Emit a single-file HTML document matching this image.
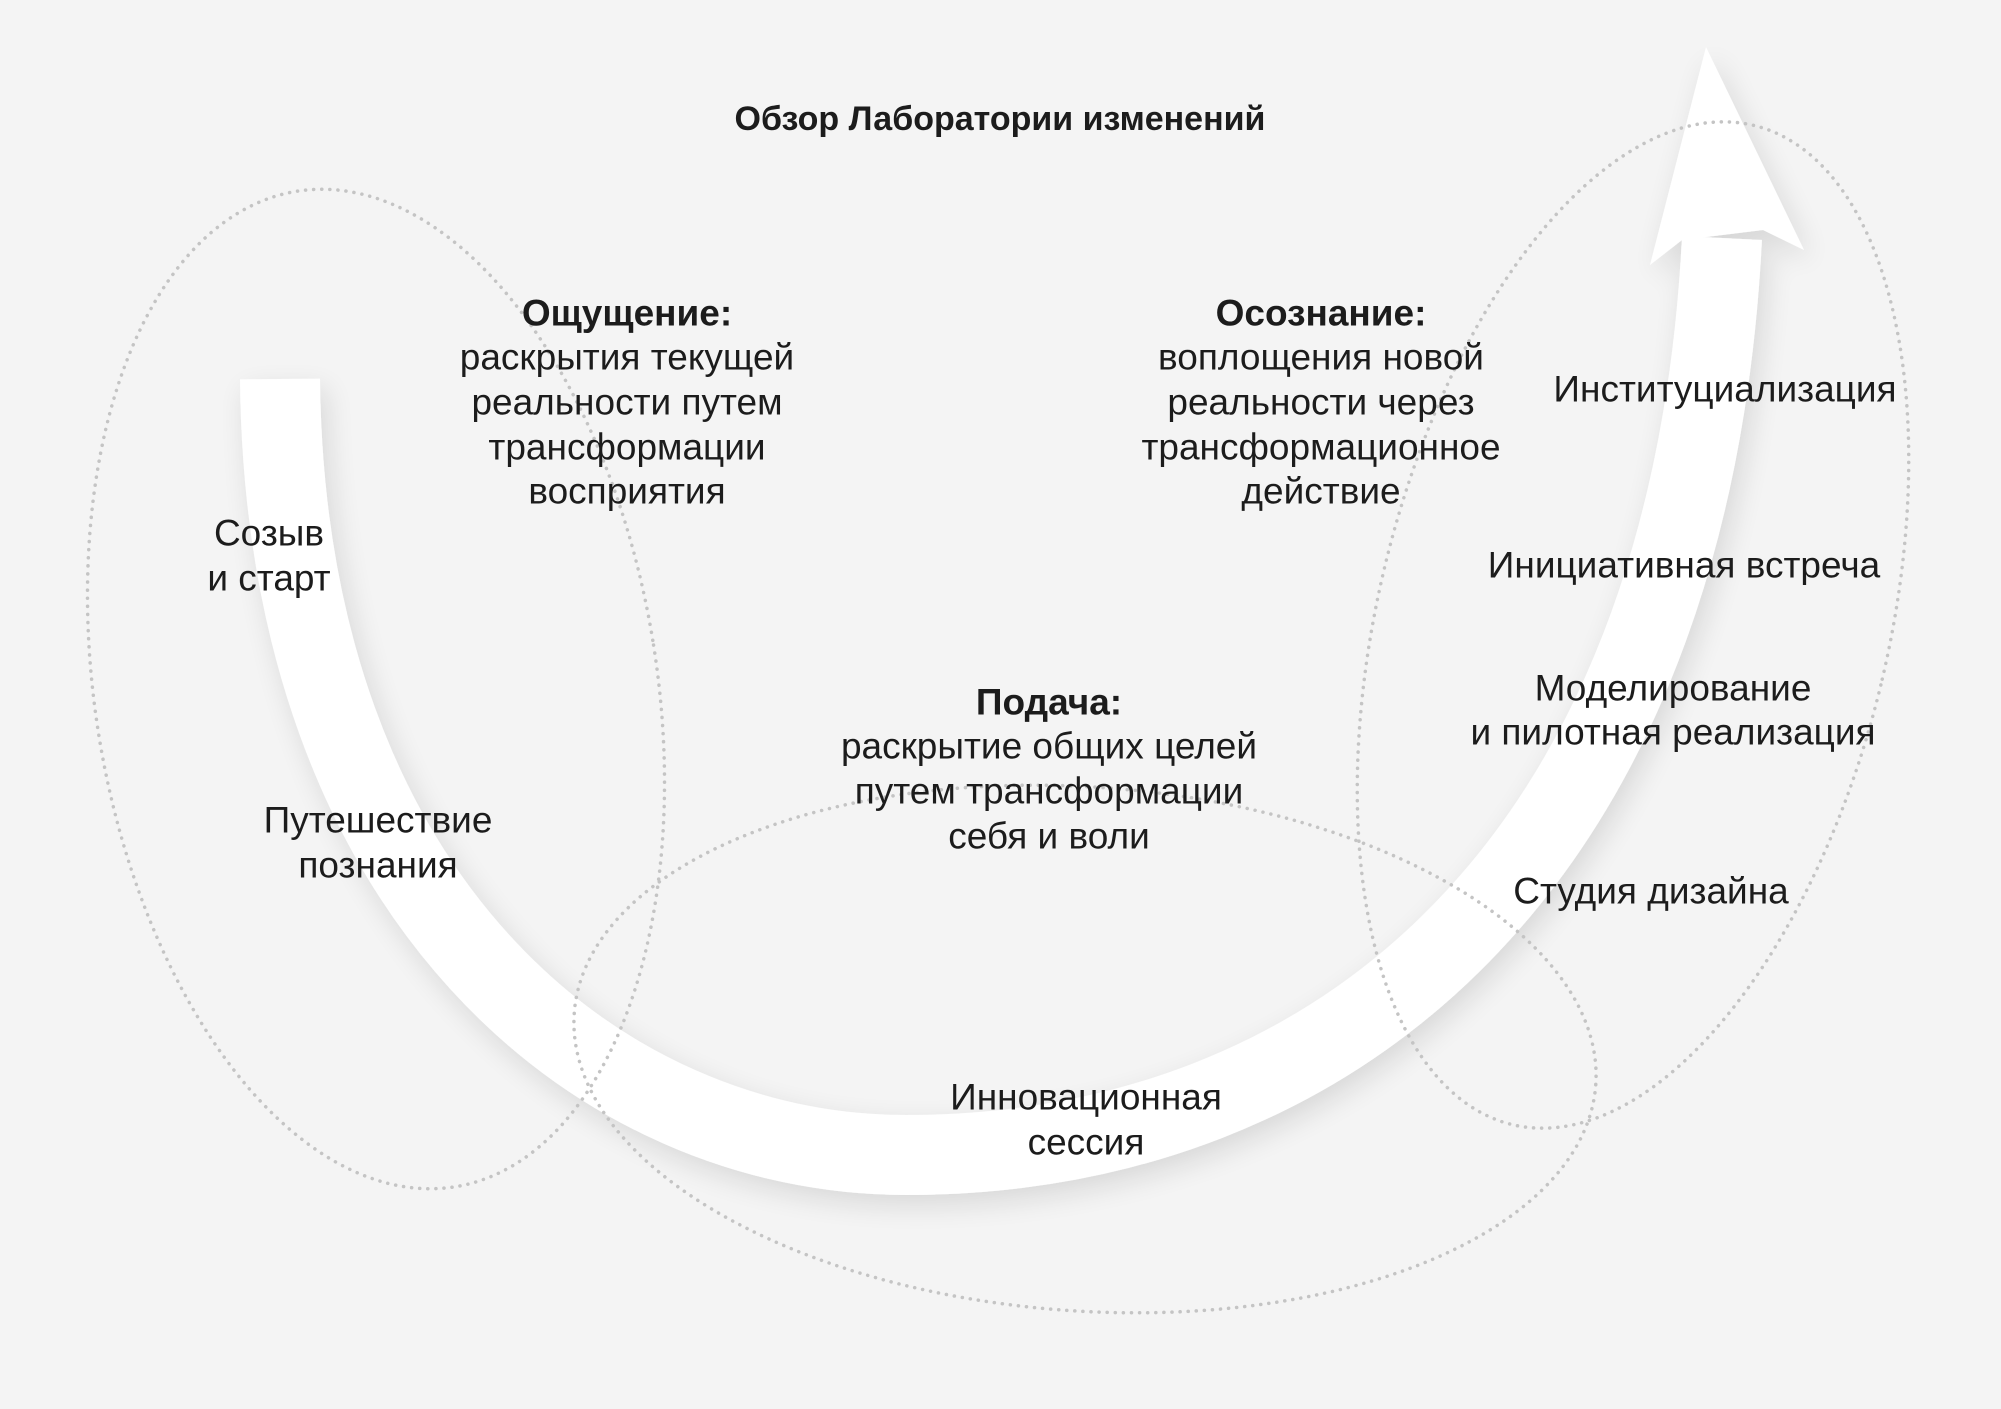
<!DOCTYPE html>
<html><head><meta charset="utf-8"><style>
html,body{margin:0;padding:0;background:#f4f4f4;}
svg{display:block;}
text{font-family:"Liberation Sans","DejaVu Sans",sans-serif;fill:#1c1c1c;font-size:37px;text-anchor:middle;dominant-baseline:central;}
.b{font-weight:bold;}
</style></head><body>
<svg width="2001" height="1409" viewBox="0 0 2001 1409" xmlns="http://www.w3.org/2000/svg">
<defs>
<filter id="sh" x="-20%" y="-20%" width="140%" height="140%">
<feGaussianBlur in="SourceAlpha" stdDeviation="14"/>
<feOffset dx="6" dy="10"/>
<feComponentTransfer><feFuncA type="linear" slope="0.12"/></feComponentTransfer>
<feMerge><feMergeNode/><feMergeNode in="SourceGraphic"/></feMerge>
</filter>
</defs>
<rect width="2001" height="1409" fill="#f4f4f4"/>
<g filter="url(#sh)">
<path d="M280,379 C285,900 600,1155 906,1155 C1330,1155 1690,870 1722,238" fill="none" stroke="#fff" stroke-width="80"/>
<polygon points="1706,47 1804,250 1763,230 1682,240 1650,265" fill="#fff"/>
</g>
<g fill="none" stroke="#c4c4c4" stroke-width="3.5" stroke-dasharray="0.1 8" stroke-linecap="round">
<ellipse cx="376" cy="689" rx="281" ry="504" transform="rotate(-9 376 689)"/>
<ellipse cx="1085" cy="1049" rx="512" ry="262" transform="rotate(4 1085 1049)"/>
<ellipse cx="1633" cy="625" rx="255" ry="514" transform="rotate(13.6 1633 625)"/>
</g>
<text x="1000" y="119" class="b" style="font-size:34px">Обзор Лаборатории изменений</text>
<text x="627" y="313" class="b">Ощущение:</text>
<text x="627" y="357">раскрытия текущей</text>
<text x="627" y="402">реальности путем</text>
<text x="627" y="447">трансформации</text>
<text x="627" y="491">восприятия</text>
<text x="1321" y="313" class="b">Осознание:</text>
<text x="1321" y="357">воплощения новой</text>
<text x="1321" y="402">реальности через</text>
<text x="1321" y="447">трансформационное</text>
<text x="1321" y="491">действие</text>
<text x="1725" y="389">Институциализация</text>
<text x="1684" y="565">Инициативная встреча</text>
<text x="1673" y="688">Моделирование</text>
<text x="1673" y="732">и пилотная реализация</text>
<text x="1651" y="891">Студия дизайна</text>
<text x="269" y="533">Созыв</text>
<text x="269" y="578">и старт</text>
<text x="378" y="820">Путешествие</text>
<text x="378" y="865">познания</text>
<text x="1049" y="702" class="b">Подача:</text>
<text x="1049" y="746">раскрытие общих целей</text>
<text x="1049" y="791">путем трансформации</text>
<text x="1049" y="836">себя и воли</text>
<text x="1086" y="1097">Инновационная</text>
<text x="1086" y="1142">сессия</text>
</svg>
</body></html>
